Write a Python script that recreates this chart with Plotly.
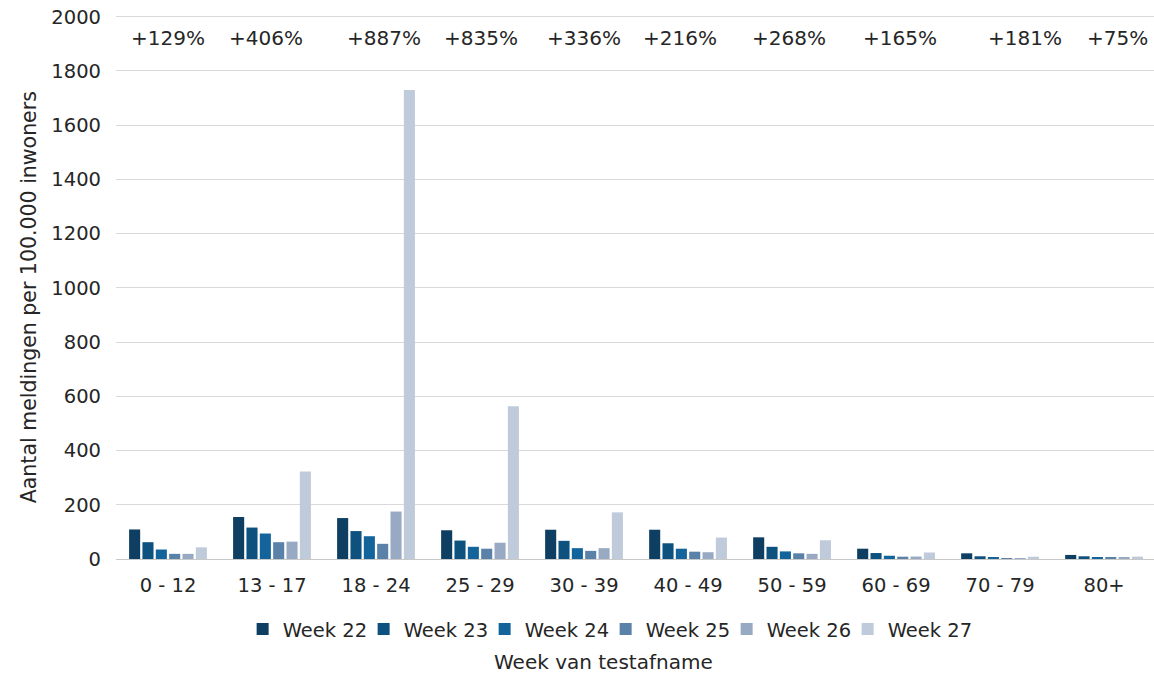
import plotly.graph_objects as go

age_groups = ["0 - 12", "13 - 17", "18 - 24", "25 - 29", "30 - 39",
              "40 - 49", "50 - 59", "60 - 69", "70 - 79", "80+"]
weeks = ["Week 22", "Week 23", "Week 24", "Week 25", "Week 26", "Week 27"]

week22 = [109, 155, 151, 106, 108, 108, 80, 38, 21, 15]
week23 = [62, 116, 103, 68, 67, 58, 45, 22, 10, 10]
week24 = [35, 94, 84, 45, 40, 38, 28, 12, 6, 7]
week25 = [19, 62, 56, 38, 30, 27, 21, 8.5, 2.5, 6]
week26 = [19, 64, 175, 60, 40, 25, 19, 9, 3, 5]
week27 = [43, 323, 1730, 563, 172, 79, 69, 24, 8.4, 8.8]

changes = ["+129%", "+406%", "+887%", "+835%", "+336%",
           "+216%", "+268%", "+165%", "+181%", "+75%"]

colors = ["#0e3f62", "#0d527f", "#12649a", "#5a81a8", "#97a9c3", "#bfcadb"]
series = [week22, week23, week24, week25, week26, week27]

# the % boxes were placed by hand in the original, so not exactly over each group
label_shift = [0.0, -0.06, 0.08, 0.01, 0.0, -0.08, -0.03, 0.04, 0.24, 0.13]

FONT = "DejaVu Sans, Verdana, sans-serif"
TXT = "#262626"

fig = go.Figure()
for name, vals, col in zip(weeks, series, colors):
    fig.add_trace(go.Bar(x=age_groups, y=vals, name=name,
                         marker=dict(color=col, line=dict(width=0))))

# empty legend slot so the last real entry is not clipped by the fixed entrywidth
fig.add_trace(go.Scatter(x=[None], y=[None], mode="markers", name="",
                         marker=dict(color="rgba(0,0,0,0)"), hoverinfo="skip"))

annotations = []
for i, (lab, dx) in enumerate(zip(changes, label_shift)):
    annotations.append(dict(x=i + dx, y=1922, xref="x", yref="y", text=lab,
                            showarrow=False, font=dict(size=20, color=TXT)))
annotations.append(dict(x=-0.0965, y=0.48, xref="paper", yref="paper",
                        text="Aantal meldingen per 100.000 inwoners", textangle=-90,
                        showarrow=False, font=dict(size=20.5, color=TXT)))
annotations.append(dict(x=0.470, y=-0.214, xref="paper", yref="paper",
                        text="Week van testafname", showarrow=False,
                        font=dict(size=20, color=TXT)))

fig.update_layout(
    width=1154, height=673,
    margin=dict(l=116, r=0, t=14, b=114),
    paper_bgcolor="white", plot_bgcolor="white",
    font=dict(family=FONT, size=19.5, color=TXT),
    barmode="group", bargap=0.23, bargroupgap=0.17,
    annotations=annotations,
    legend=dict(orientation="h", x=0.122, xanchor="left", y=-0.129, yanchor="middle",
                font=dict(size=19.5, color=TXT), entrywidth=76, entrywidthmode="pixels",
                itemwidth=30, traceorder="normal"),
    xaxis=dict(range=[-0.5, 9.48], showgrid=False, ticks="", ticklabelstandoff=12,
               automargin=False, tickfont=dict(size=19.5, color=TXT)),
    yaxis=dict(range=[0, 2010], dtick=200, tickformat="d", showgrid=True,
               gridcolor="#d9d9d9", gridwidth=1, zeroline=True, zerolinecolor="#c8c8c8",
               zerolinewidth=1, ticks="", ticklabelstandoff=14, automargin=False,
               ticklabeloverflow="allow", tickfont=dict(size=19.5, color=TXT)),
)

# drop the default 8px body margin so the figure fills the window exactly
fig.write_html("out.html", config={"displayModeBar": False},
               post_script="document.body.style.margin='0';document.body.style.overflow='hidden';")
